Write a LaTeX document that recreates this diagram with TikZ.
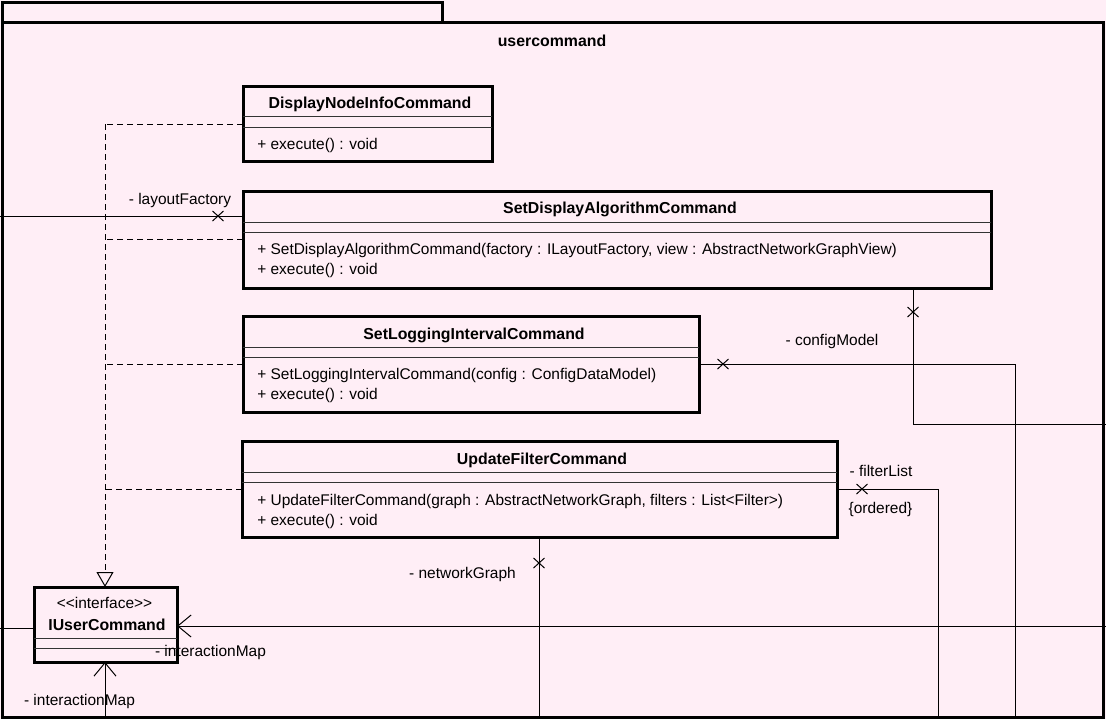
\documentclass[tikz,border=0pt]{standalone}
\usepackage{fontspec}
\setmainfont{Liberation Sans}
\usetikzlibrary{arrows.meta,shapes.misc,fit}
\definecolor{umlpink}{RGB}{255,238,246}
\begin{document}
\begin{tikzpicture}[x=0.75pt,y=-0.75pt,
  frame/.style={draw=black,line width=2.25pt,inner sep=0pt,outer sep=0pt},
  classbox/.style={draw=black,fill=umlpink,line width=2.25pt,inner sep=0pt,outer sep=0pt},
  sepline/.style={draw=black!80,line width=0.75pt},
  assoc/.style={draw=black,line width=0.75pt},
  realize/.style={draw=black,line width=0.75pt,dash pattern=on 4.5pt off 3pt},
  navarrow/.style={assoc,-{Straight Barb[length=10pt,width=16.5pt,line width=0.75pt]}},
  realtip/.style={-{Triangle[open,length=11.25pt,width=12.75pt,line width=0.75pt]}},
  xmark/.style={cross out,draw=black,line width=0.75pt,minimum width=7.5pt,minimum height=6.75pt,inner sep=0pt},
  txt/.style={inner sep=0pt,anchor=base,font=\fontsize{11.6pt}{13pt}\selectfont},
  attr/.style={inner sep=0pt,anchor=base west,font=\fontsize{11.6pt}{13pt}\selectfont},
  ttl/.style={inner sep=0pt,anchor=base,font=\fontsize{11.9pt}{13pt}\selectfont\bfseries},
]
% canvas
\fill[umlpink] (0,0) rectangle (1106,719);
\useasboundingbox (0,0) rectangle (1106,719);

% package frame with its tab
\node[frame,fit={(2,2) (442,22)}] (tab) {};
\node[frame,fit={(2,22) (1103,717)}] (pkg) {};
\node[ttl] (pkgname) at (552,46) {usercommand};

% free ends of the associations leaving the package
\coordinate (lfEnd) at (0,216);
\coordinate (viewBend) at (913,424);
\coordinate (viewEnd) at (1106,424);
\coordinate (cfgBend) at (1015,364);
\coordinate (cfgEnd) at (1015,717);
\coordinate (fltBend) at (938,489);
\coordinate (fltEnd) at (938,717);
\coordinate (ngEnd) at (539,717);
\coordinate (imRight) at (1106,626);
\coordinate (imLeft) at (0,628);
\coordinate (imBottom) at (105,717);

% realization junctions
\coordinate (rj1) at (105,124);
\coordinate (rj2) at (105,239);
\coordinate (rj3) at (105,364);
\coordinate (rj4) at (105,489);

% class box corners
\path (243,86) coordinate (dniA) (492,161) coordinate (dniB);
\path (243,191) coordinate (sdaA) (991,288) coordinate (sdaB);
\path (243,316) coordinate (sliA) (699,412) coordinate (sliB);
\path (242,441) coordinate (ufcA) (837,537) coordinate (ufcB);
\path (34,587) coordinate (iucA) (177,662) coordinate (iucB);
\node[classbox,fit=(dniA)(dniB)] (dni) {};
\node[classbox,fit=(sdaA)(sdaB)] (sda) {};
\node[classbox,fit=(sliA)(sliB)] (sli) {};
\node[classbox,fit=(ufcA)(ufcB)] (ufc) {};
\node[classbox,fit=(iucA)(iucB)] (iuc) {};

% realizations of IUserCommand
\draw[realize] (dni.west |- rj1) -- (rj1);
\draw[realize] (sda.west |- rj2) -- (rj2);
\draw[realize] (sli.west |- rj3) -- (rj3);
\draw[realize] (ufc.west |- rj4) -- (rj4);
\draw[realize,realtip] (rj1) -- (iuc.north -| rj1);

% associations
\draw[assoc] (lfEnd) -- (lfEnd -| sda.west);
\draw[assoc] (sda.south -| viewBend) -- (viewBend) -- (viewEnd);
\draw[assoc] (sli.east |- cfgBend) -- (cfgBend) -- (cfgEnd);
\draw[assoc] (ufc.east |- fltBend) -- (fltBend) -- (fltEnd);
\draw[assoc] (ufc.south -| ngEnd) -- (ngEnd);
\draw[navarrow] (imRight) -- (imRight -| iuc.east);
\draw[assoc] (imLeft) -- (imLeft -| iuc.west);
\draw[navarrow] (imBottom) -- (iuc.south -| imBottom);

% class boxes over the connectors
\node[classbox,fit=(dniA)(dniB)] {};
\node[classbox,fit=(sdaA)(sdaB)] {};
\node[classbox,fit=(sliA)(sliB)] {};
\node[classbox,fit=(ufcA)(ufcB)] {};
\node[classbox,fit=(iucA)(iucB)] {};

% compartments
\draw[sepline] (243,116) -- (492,116) (243,127) -- (492,127);
\draw[sepline] (243,222) -- (991,222) (243,232) -- (991,232);
\draw[sepline] (243,347) -- (699,347) (243,357) -- (699,357);
\draw[sepline] (242,472) -- (837,472) (242,482) -- (837,482);
\draw[sepline] (34,638) -- (177,638) (34,648) -- (177,648);

% navigability marks and role names
\node[xmark] (xlf) at (218,216) {};
\node[txt] (lflabel) at (180,204) {- layoutFactory};
\node[xmark] (xview) at (913,312) {};
\node[xmark] (xcfg) at (723,364) {};
\node[txt] (cfglabel) at (832,345) {- configModel};
\node[xmark] (xflt) at (862,489) {};
\node[txt] (fltlabel) at (881,476) {- filterList};
\node[txt] (fltord) at (880.5,513) {\{ordered\}};
\node[xmark] (xng) at (539,563) {};
\node[txt] (nglabel) at (462.5,578) {- networkGraph};
\node[txt] (imlabelA) at (210.5,656.5) {- interactionMap};
\node[txt] (imlabelB) at (79.5,705.5) {- interactionMap};

% DisplayNodeInfoCommand
\node[ttl] (dniname) at (370,108.5) {DisplayNodeInfoCommand};
\node[attr] (dniop1) at (257,149.5) {+ execute() : void};

% SetDisplayAlgorithmCommand
\node[ttl] (sdaname) at (620,213.5) {SetDisplayAlgorithmCommand};
\node[attr] (sdaop1) at (257,254.5) {+ SetDisplayAlgorithmCommand(factory : ILayoutFactory, view : AbstractNetworkGraphView)};
\node[attr] (sdaop2) at (257,274.5) {+ execute() : void};

% SetLoggingIntervalCommand
\node[ttl] (sliname) at (474,339) {SetLoggingIntervalCommand};
\node[attr] (sliop1) at (257,379) {+ SetLoggingIntervalCommand(config : ConfigDataModel)};
\node[attr] (sliop2) at (257,399) {+ execute() : void};

% UpdateFilterCommand
\node[ttl] (ufcname) at (542,464) {UpdateFilterCommand};
\node[attr] (ufcop1) at (257,505) {+ UpdateFilterCommand(graph : AbstractNetworkGraph, filters : List<Filter>)};
\node[attr] (ufcop2) at (257,525) {+ execute() : void};

% IUserCommand
\node[txt] (iucstereo) at (104.5,608) {<\kern0pt<interface>\kern0pt>};
\node[ttl] (iucname) at (107,630) {IUserCommand};
\end{tikzpicture}
\end{document}
